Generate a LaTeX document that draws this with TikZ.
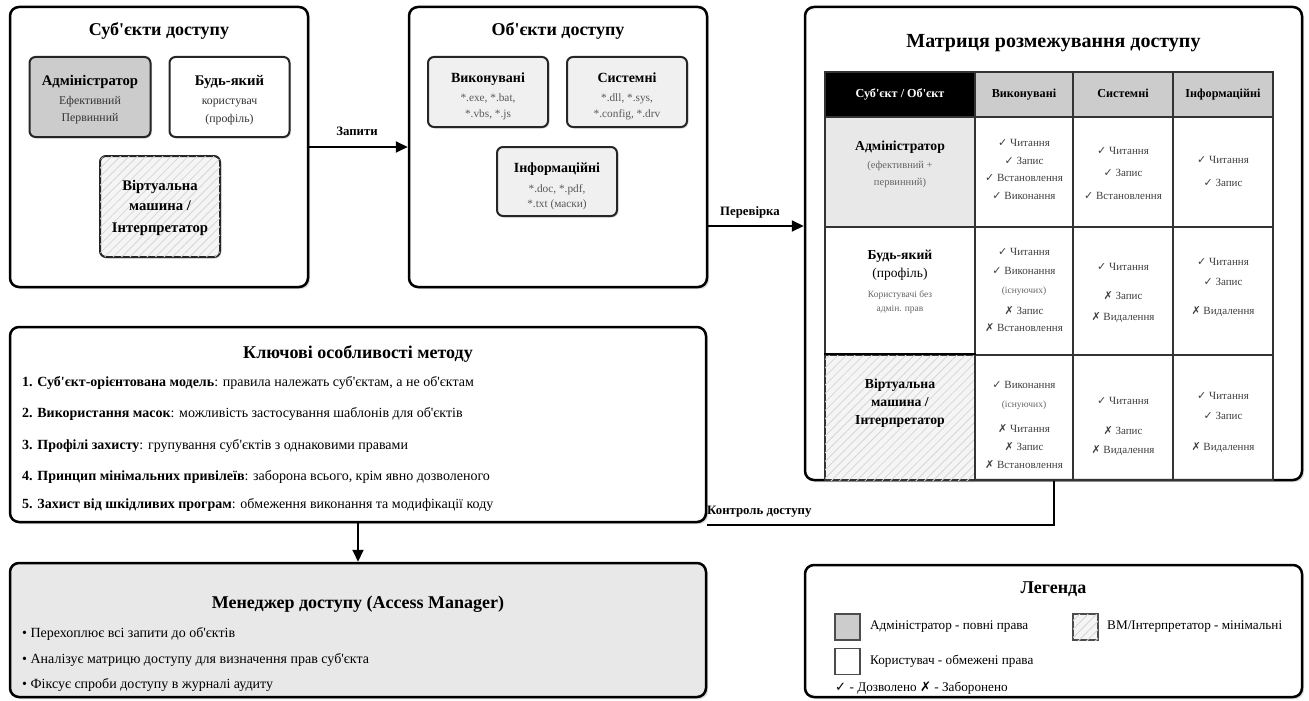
\documentclass[tikz,border=0pt]{standalone}
\usepackage{fontspec}
\setmainfont{Liberation Serif}[Ligatures=TeXOff]
\newfontfamily\symfont{DejaVu Sans}
\usetikzlibrary{arrows.meta,shadows,patterns.meta}

\newcommand\yesmark{{\symfont ✓}}
\newcommand\nomark{{\symfont ✗}}
\newcommand\fs[1]{\fontsize{#1}{#1}\selectfont}

\begin{document}
\begin{tikzpicture}[x=1pt,y=-1pt,
  txt/.style={inner sep=0pt, text height=.72em, text depth=.22em},
  panel/.style={draw=black, line width=2.5pt, rounded corners=9pt, fill=white, inner sep=0pt,
    drop shadow={shadow xshift=2pt, shadow yshift=-2pt, opacity=.3}},
  subbox/.style={draw=black!85, line width=2pt, rounded corners=6pt, inner sep=0pt,
    drop shadow={shadow xshift=1.5pt, shadow yshift=-1.5pt, opacity=.25}},
  hatch/.style={fill=black!4, postaction={pattern={Lines[angle=45,distance=6pt,line width=.8pt]}, pattern color=black!16}},
  ttl/.style={txt, font=\bfseries\fs{18}},
  boxhead/.style={txt, font=\bfseries\fs{14.7}},
  boxsub/.style={txt, font=\fs{11.8}, text=black!80},
  objhead/.style={txt, font=\bfseries\fs{14}},
  objsub/.style={txt, font=\fs{11.3}, text=black!65},
  conn/.style={draw=black, line width=2pt, -{Triangle[length=12pt,width=11pt]}},
  connlbl/.style={txt, font=\bfseries\fs{12.8}},
  cell/.style={draw=black!80, line width=1.2pt, inner sep=0pt},
  hcell/.style={txt, font=\bfseries\fs{12.2}},
  rowhead/.style={txt, font=\bfseries\fs{13.7}},
  rowsub/.style={txt, font=\fs{10.5}, text=black!60},
  right/.style={txt, font=\fs{11}, text=black!75},
  note/.style={txt, font=\fs{9.5}, text=black!60},
  item/.style={txt, font=\fs{14}, anchor=west},
  legitem/.style={txt, font=\fs{13.2}, anchor=west},
  swatch/.style={draw=black!70, line width=1.2pt, minimum width=25pt, minimum height=26pt, inner sep=0pt}
]
\useasboundingbox (0,0) rectangle (1309,701);

% ---------- subjects ----------
\node[panel, minimum width=298pt, minimum height=280pt] (subj) at (159,147) {};
\node[ttl] (subjT) at (159,33) {Суб'єкти доступу};
\node[subbox, fill=black!20, minimum width=121pt, minimum height=80pt] (admin) at (90,97) {};
\node[boxhead] (adminA) at (90,83) {Адміністратор};
\node[boxsub] (adminB) at (90,102) {Ефективний};
\node[boxsub] (adminC) at (90,119) {Первинний};
\node[subbox, fill=white, minimum width=120pt, minimum height=80pt] (user) at (229.5,97) {};
\node[boxhead] (userA) at (229.5,83) {Будь-який};
\node[boxsub] (userB) at (229.5,102) {користувач};
\node[boxsub] (userC) at (229.5,120) {(профіль)};
\node[subbox, hatch, minimum width=120pt, minimum height=101pt] (vm) at (160,206.5) {};
\node[boxhead] (vmA) at (160,188) {Віртуальна};
\node[boxhead] (vmB) at (160,208) {машина /};
\node[boxhead] (vmC) at (160,230) {Інтерпретатор};

% ---------- objects ----------
\node[panel, minimum width=298pt, minimum height=280pt] (obj) at (558,147) {};
\node[ttl] (objT) at (558,33) {Об'єкти доступу};
\node[subbox, fill=black!6, minimum width=120pt, minimum height=70pt] (exe) at (488,92) {};
\node[objhead] (exeA) at (488,80) {Виконувані};
\node[objsub] (exeB) at (488,99) {*.exe, *.bat,};
\node[objsub] (exeC) at (488,115) {*.vbs, *.js};
\node[subbox, fill=black!6, minimum width=120pt, minimum height=70pt] (sys) at (627,92) {};
\node[objhead] (sysA) at (627,80) {Системні};
\node[objsub] (sysB) at (627,99) {*.dll, *.sys,};
\node[objsub] (sysC) at (627,115) {*.config, *.drv};
\node[subbox, fill=black!6, minimum width=120pt, minimum height=69pt] (info) at (557,181.5) {};
\node[objhead] (infoA) at (557,170) {Інформаційні};
\node[objsub] (infoB) at (557,190) {*.doc, *.pdf,};
\node[objsub] (infoC) at (557,205) {*.txt (маски)};

% ---------- matrix ----------
\node[panel, minimum width=497pt, minimum height=473pt] (matrix) at (1053.5,243.5) {};
\node[txt, font=\bfseries\fs{20}] (matT) at (1053.5,45) {Матриця розмежування доступу};

% header row
\node[cell, fill=black, minimum width=150pt, minimum height=45pt] (h0) at (900,94.5) {};
\node[cell, fill=black!20, minimum width=98pt, minimum height=45pt] (h1) at (1024,94.5) {};
\node[cell, fill=black!20, minimum width=100pt, minimum height=45pt] (h2) at (1123,94.5) {};
\node[cell, fill=black!20, minimum width=100pt, minimum height=45pt] (h3) at (1223,94.5) {};
\node[hcell, text=white] (h0t) at (900,95) {Суб'єкт / Об'єкт};
\node[hcell] (h1t) at (1024,95) {Виконувані};
\node[hcell] (h2t) at (1123,95) {Системні};
\node[hcell] (h3t) at (1223,95) {Інформаційні};

% body cells
\node[cell, fill=black!9, minimum width=150pt, minimum height=110pt] (r1c0) at (900,172) {};
\node[cell, minimum width=98pt, minimum height=110pt] (r1c1) at (1024,172) {};
\node[cell, minimum width=100pt, minimum height=110pt] (r1c2) at (1123,172) {};
\node[cell, minimum width=100pt, minimum height=110pt] (r1c3) at (1223,172) {};
\node[cell, fill=white, minimum width=150pt, minimum height=128pt] (r2c0) at (900,291) {};
\node[cell, minimum width=98pt, minimum height=128pt] (r2c1) at (1024,291) {};
\node[cell, minimum width=100pt, minimum height=128pt] (r2c2) at (1123,291) {};
\node[cell, minimum width=100pt, minimum height=128pt] (r2c3) at (1223,291) {};
\node[cell, hatch, minimum width=150pt, minimum height=125pt] (r3c0) at (900,417.5) {};
\node[cell, minimum width=98pt, minimum height=125pt] (r3c1) at (1024,417.5) {};
\node[cell, minimum width=100pt, minimum height=125pt] (r3c2) at (1123,417.5) {};
\node[cell, minimum width=100pt, minimum height=125pt] (r3c3) at (1223,417.5) {};
\draw[line width=2pt] (r3c0.north west) -- (r3c0.north east);

% row 1: administrator
\node[rowhead] (r1h) at (900,148) {Адміністратор};
\node[rowsub] (r1s1) at (900,166) {(ефективний +};
\node[rowsub] (r1s2) at (900,183) {первинний)};
\node[right] (r1a1) at (1024,144) {\yesmark{} Читання};
\node[right] (r1a2) at (1024,162) {\yesmark{} Запис};
\node[right] (r1a3) at (1024,179) {\yesmark{} Встановлення};
\node[right] (r1a4) at (1024,197) {\yesmark{} Виконання};
\node[right] (r1b1) at (1123,152) {\yesmark{} Читання};
\node[right] (r1b2) at (1123,174) {\yesmark{} Запис};
\node[right] (r1b3) at (1123,197) {\yesmark{} Встановлення};
\node[right] (r1c1t) at (1223,161) {\yesmark{} Читання};
\node[right] (r1c2t) at (1223,184) {\yesmark{} Запис};

% row 2: any user
\node[rowhead] (r2h) at (900,257) {Будь-який};
\node[rowhead, font=\fs{13.5}] (r2h2) at (900,275) {(профіль)};
\node[rowsub, font=\fs{9.5}] (r2s1) at (900,295) {Користувачі без};
\node[rowsub, font=\fs{9.5}] (r2s2) at (900,309) {адмін. прав};
\node[right] (r2a1) at (1024,253) {\yesmark{} Читання};
\node[right] (r2a2) at (1024,272) {\yesmark{} Виконання};
\node[note] (r2a3) at (1024,291) {(існуючих)};
\node[right] (r2a4) at (1024,312) {\nomark{} Запис};
\node[right] (r2a5) at (1024,329) {\nomark{} Встановлення};
\node[right] (r2b1) at (1123,268) {\yesmark{} Читання};
\node[right] (r2b2) at (1123,297) {\nomark{} Запис};
\node[right] (r2b3) at (1123,318) {\nomark{} Видалення};
\node[right] (r2c1t) at (1223,263) {\yesmark{} Читання};
\node[right] (r2c2t) at (1223,283) {\yesmark{} Запис};
\node[right] (r2c3t) at (1223,312) {\nomark{} Видалення};

% row 3: virtual machine
\node[rowhead] (r3h1) at (900,386) {Віртуальна};
\node[rowhead] (r3h2) at (900,404) {машина /};
\node[rowhead] (r3h3) at (900,422) {Інтерпретатор};
\node[right] (r3a1) at (1024,386) {\yesmark{} Виконання};
\node[note] (r3a2) at (1024,405) {(існуючих)};
\node[right] (r3a3) at (1024,430) {\nomark{} Читання};
\node[right] (r3a4) at (1024,448) {\nomark{} Запис};
\node[right] (r3a5) at (1024,466) {\nomark{} Встановлення};
\node[right] (r3b1) at (1123,402) {\yesmark{} Читання};
\node[right] (r3b2) at (1123,432) {\nomark{} Запис};
\node[right] (r3b3) at (1123,451) {\nomark{} Видалення};
\node[right] (r3c1t) at (1223,397) {\yesmark{} Читання};
\node[right] (r3c2t) at (1223,417) {\yesmark{} Запис};
\node[right] (r3c3t) at (1223,448) {\nomark{} Видалення};

% ---------- key features ----------
\node[panel, minimum width=696pt, minimum height=195pt] (feat) at (358,424.5) {};
\node[ttl] (featT) at (358,356) {Ключові особливості методу};
\node[item] (f1) at (22,384) {\textbf{1. Суб'єкт-орієнтована модель}: правила належать суб'єктам, а не об'єктам};
\node[item] (f2) at (22,415) {\textbf{2. Використання масок}: можливість застосування шаблонів для об'єктів};
\node[item] (f3) at (22,447) {\textbf{3. Профілі захисту}: групування суб'єктів з однаковими правами};
\node[item] (f4) at (22,478) {\textbf{4. Принцип мінімальних привілеїв}: заборона всього, крім явно дозволеного};
\node[item] (f5) at (22,506) {\textbf{5. Захист від шкідливих програм}: обмеження виконання та модифікації коду};

% ---------- access manager ----------
\node[panel, fill=black!9, minimum width=696pt, minimum height=134pt] (mgr) at (358,630) {};
\node[ttl] (mgrT) at (358,606) {Менеджер доступу (Access Manager)};
\node[item] (m1) at (22,635) {• Перехоплює всі запити до об'єктів};
\node[item] (m2) at (22,661) {• Аналізує матрицю доступу для визначення прав суб'єкта};
\node[item] (m3) at (22,686) {• Фіксує спроби доступу в журналі аудиту};

% ---------- legend ----------
\node[panel, minimum width=497pt, minimum height=132pt] (leg) at (1053.5,631) {};
\node[ttl] (legT) at (1053.5,591) {Легенда};
\node[swatch, fill=black!20] (swA) at (847.5,627) {};
\node[legitem] (swAt) at (870,627) {Адміністратор - повні права};
\node[swatch, hatch] (swV) at (1085.5,627) {};
\node[legitem] (swVt) at (1107,627) {ВМ/Інтерпретатор - мінімальні};
\node[swatch, fill=white] (swU) at (847.5,661.5) {};
\node[legitem] (swUt) at (870,662) {Користувач - обмежені права};
\node[legitem] (chk) at (835,689) {{\symfont\bfseries ✓} - Дозволено {\symfont\bfseries ✗} - Заборонено};

% ---------- connectors ----------
\coordinate (verifyY) at (0,226);
\coordinate (ctrlY) at (0,525);
\draw[conn] (subj.east) -- (obj.west);
\node[connlbl] (reqL) at (357,133) {Запити};
\draw[conn] (obj.east |- verifyY) -- (matrix.west |- verifyY);
\node[connlbl] (verL) at (750,213) {Перевірка};
\draw[conn] (feat.south) -- (mgr.north);
\draw[line width=2pt] (matrix.south) -- (matrix.south |- ctrlY) -- (feat.east |- ctrlY);
\node[connlbl, anchor=west] (ctrlL) at (707,512) {Контроль доступу};
\end{tikzpicture}
\end{document}
